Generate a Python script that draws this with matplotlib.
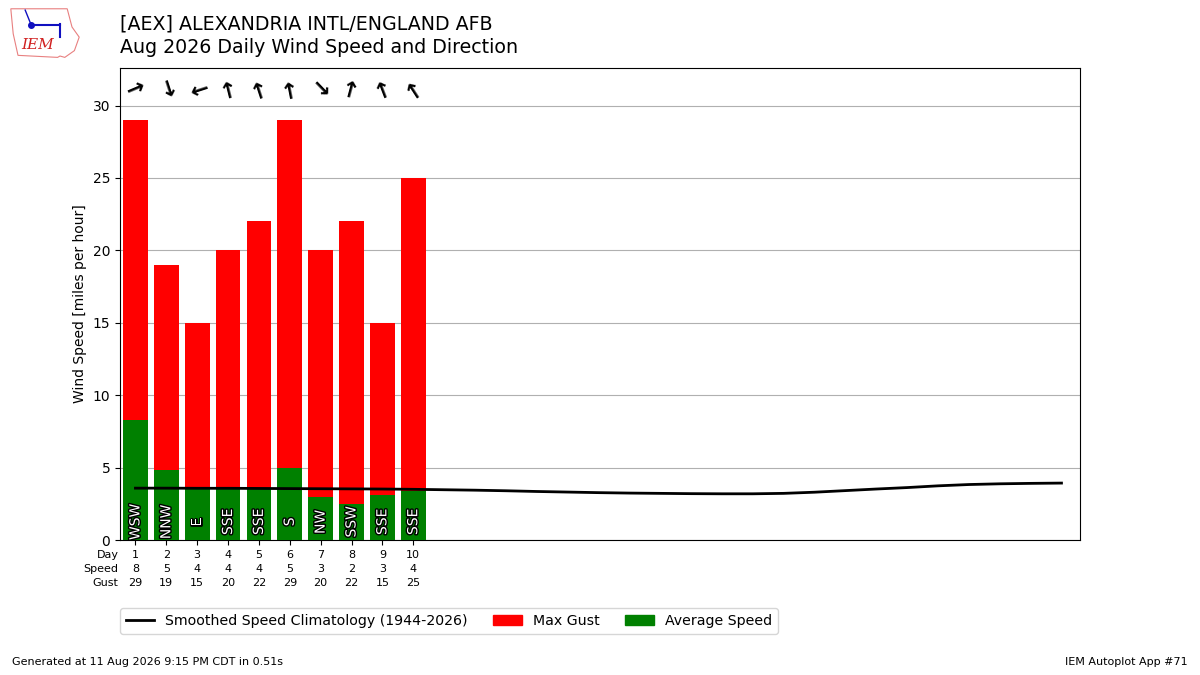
import matplotlib
matplotlib.use("Agg")
import matplotlib.pyplot as plt
import matplotlib.patheffects as pe
from matplotlib.patches import Polygon, Rectangle
from matplotlib.lines import Line2D
import numpy as np

days = [1, 2, 3, 4, 5, 6, 7, 8, 9, 10]
avg_speed = [8.3, 4.8, 3.6, 3.5, 3.5, 5.0, 3.0, 2.5, 3.1, 3.4]
max_gust = [29, 19, 15, 20, 22, 29, 20, 22, 15, 25]
speed_lbl = [8, 5, 4, 4, 4, 5, 3, 2, 3, 4]
dir_txt = ["WSW", "NNW", "E", "SSE", "SSE", "S", "NW", "SSW", "SSE", "SSE"]
dir_deg = [247, 342, 72, 166, 162, 169, 316, 195, 159, 147]

clim_days = list(range(1, 32))
clim_speed = [3.58, 3.58, 3.57, 3.57, 3.56, 3.55, 3.54, 3.53, 3.52, 3.50,
              3.47, 3.44, 3.40, 3.35, 3.31, 3.27, 3.24, 3.22, 3.20, 3.19,
              3.19, 3.22, 3.30, 3.41, 3.52, 3.62, 3.74, 3.83, 3.88, 3.91, 3.93]

fig = plt.figure(figsize=(12, 6.75), dpi=100)
ax = fig.add_axes([0.1, 0.2, 0.8, 0.7])

ax.bar(days, max_gust, width=0.8, color="red", zorder=2)
ax.bar(days, avg_speed, width=0.8, color="green", zorder=3)
ax.plot(clim_days, clim_speed, color="black", lw=2, zorder=4)

ymax = max(max_gust) * 1.125
ax.set_ylim(0, ymax)
ax.set_xlim(0.5, 31.6)
ax.set_yticks(range(0, 31, 5))
ax.grid(axis="y", color="#b0b0b0", zorder=0)
ax.set_axisbelow(True)
ax.set_ylabel("Wind Speed [miles per hour]")

for d, t in zip(days, dir_txt):
    ax.text(d, 1.25, t, rotation=90, ha="center", va="center", color="white",
            fontsize=10, zorder=5,
            path_effects=[pe.withStroke(linewidth=2, foreground="black")])

for d, deg in zip(days, dir_deg):
    ang = (90 - (deg + 180)) % 360
    ax.text(d, ymax * 0.956, "\u2192", rotation=ang, rotation_mode="anchor",
            ha="center", va="center", fontsize=16, fontweight="bold", zorder=5)

ax.set_xticks(days)
ax.set_xticklabels([f"{d}\n{s}\n{g}" for d, s, g in zip(days, speed_lbl, max_gust)],
                   fontsize=8, linespacing=1.5)
ax.annotate("Day\nSpeed\nGust", xy=(0, 0), xycoords="axes fraction",
            xytext=(-1, -7), textcoords="offset points", ha="right", va="top",
            multialignment="right", fontsize=8, linespacing=1.5)

handles = [Line2D([], [], color="black", lw=2),
           Rectangle((0, 0), 1, 1, color="red"),
           Rectangle((0, 0), 1, 1, color="green")]
labels = ["Smoothed Speed Climatology (1944-2026)", "Max Gust", "Average Speed"]
fig.legend(handles, labels, loc="upper left", bbox_to_anchor=(0.1, 0.099),
           ncol=3, borderaxespad=0, fontsize=10.2, columnspacing=1.8)

fig.text(0.1, 0.964, "[AEX] ALEXANDRIA INTL/ENGLAND AFB", fontsize=13.7, va="center")
fig.text(0.1, 0.929, "Aug 2026 Daily Wind Speed and Direction", fontsize=13.7, va="center")
fig.text(0.01, 0.015, "Generated at 11 Aug 2026 9:15 PM CDT in 0.51s", fontsize=8)
fig.text(0.99, 0.015, "IEM Autoplot App #71", fontsize=8, ha="right")

# simple IEM logo
iowa = [(0.009, 0.987), (0.056, 0.987), (0.060, 0.96), (0.066, 0.945),
        (0.062, 0.925), (0.054, 0.915), (0.050, 0.917), (0.048, 0.915),
        (0.015, 0.918), (0.011, 0.95), (0.009, 0.987)]
fig.add_artist(Polygon(iowa, closed=True, fill=False, edgecolor="#e88080",
                       lw=0.8, transform=fig.transFigure))
fig.text(0.0175, 0.933, "IEM", color="#d02020", fontsize=11, style="italic",
         family="DejaVu Serif", va="center")
fig.add_artist(Line2D([0.026, 0.050], [0.963, 0.963], color="#1010c0", lw=1.5,
                      transform=fig.transFigure))
fig.add_artist(Line2D([0.026], [0.963], marker="o", color="#1010c0", ms=4,
                      transform=fig.transFigure))
fig.add_artist(Line2D([0.021, 0.026], [0.985, 0.963], color="#1010c0", lw=1,
                      transform=fig.transFigure))
fig.add_artist(Line2D([0.050, 0.050], [0.965, 0.945], color="#1010c0", lw=1.5,
                      transform=fig.transFigure))

fig.savefig("out.png", dpi=100)
